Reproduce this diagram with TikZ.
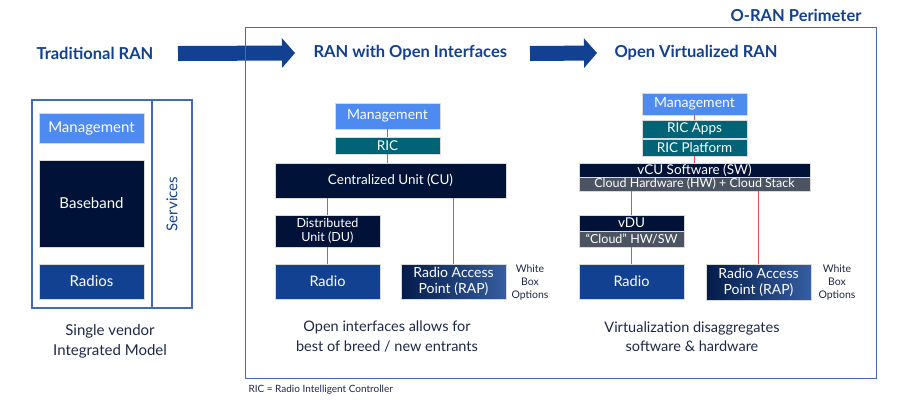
\documentclass[tikz,border=0pt]{standalone}
\usepackage{fontspec}
\setmainfont{Lato}
\usepackage{tikz}
\usetikzlibrary{calc,arrows.meta}
\definecolor[named]{ranBlue}{RGB}{18,65,145}
\definecolor[named]{mgmtBlue}{RGB}{77,139,240}
\definecolor[named]{ranNavy}{RGB}{0,18,56}
\definecolor[named]{ricTeal}{RGB}{0,100,118}
\definecolor[named]{cloudGray}{RGB}{76,84,98}
\definecolor[named]{linkRed}{RGB}{224,80,80}
\definecolor[named]{frameBlue}{RGB}{70,105,180}
\definecolor[named]{textNavy}{RGB}{30,40,70}

\begin{document}
\begin{tikzpicture}
[%
    x=1pt, y=-1pt,
    box/.style={
      rectangle,
      draw=gray!30,
      line width=0.6pt,
      inner sep=0pt,
      text=white,
      align=center,
      minimum width=105pt,
      font=\fontsize{13.5}{14}\selectfont
    },
    widebox/.style={
      box,
      minimum width=231pt
    },
    title/.style={
      anchor=west,
      text=ranBlue,
      font=\fontsize{16.5}{18}\selectfont\bfseries
    },
    caption/.style={
      text=textNavy,
      align=center,
      font=\fontsize{14.5}{19.5}\selectfont
    },
    wbox/.style={
      text=textNavy,
      align=center,
      font=\fontsize{10.5}{13}\selectfont
    },
    link/.style={
      draw=linkRed,
      line width=1.1pt
    },
    frame/.style={
      draw=frameBlue,
      line width=1.3pt
    },
    bigarrow/.style={
      draw=ranBlue,
      line width=15pt,
      -{Triangle[width=29pt,length=13pt]}
    }
  ]
  \useasboundingbox (0,0) rectangle (900,402);

  %Titles
  \node[title] (trad) at (33,53) {Traditional RAN};
  \node[title] (openif) at (310,53) {RAN with Open Interfaces};
  \node[title] (openvirt) at (611,53) {Open Virtualized RAN};
  \draw[bigarrow] (178,53.5) -- (openif.west -| 295,0);
  \draw[bigarrow] (530,53.5) -- (openvirt.west -| 597,0);

  %O-RAN perimeter
  \draw[frame, line width=1pt] (245,27) rectangle (876,378);
  \node[title, anchor=east] (perim) at (865,15) {O-RAN Perimeter};

  %Traditional RAN
  \draw[frame] (32,100) rectangle (192,308);
  \draw[frame] (152,100) -- (152,308);
  \draw (91.5,128) node[box, fill=mgmtBlue, minimum height=30pt, font=\fontsize{15}{16}\selectfont] (mgmt) {Management};
  \draw (91.5,203.5) node[box, fill=ranNavy, minimum height=87pt, font=\fontsize{15}{16}\selectfont] (bb) {Baseband};
  \draw (91.5,281.5) node[box, fill=ranBlue, minimum height=35pt, font=\fontsize{15}{16}\selectfont] (radios) {Radios};
  \node[rotate=90, text=ranBlue, font=\fontsize{15}{16}\selectfont] (serv) at (172,204) {Services};
  \node[caption, font=\fontsize{15}{20}\selectfont] (single) at (110,341) {Single vendor\\Integrated Model};

  %Open interfaces
  \draw (387.5,116) node[box, fill=mgmtBlue, minimum height=26pt, font=\fontsize{14}{15}\selectfont] (mgmtA) {Management};
  \draw (387.5,145.5) node[box, fill=ricTeal, minimum height=17pt] (ricA) {RIC};
  \draw (390.5,180.5) node[widebox, fill=ranNavy, minimum height=35pt] (cuA) {Centralized Unit (CU)};
  \draw (327.5,231) node[box, fill=ranNavy, minimum height=32pt, font=\fontsize{12.5}{14}\selectfont] (duA) {Distributed\\Unit (DU)};
  \draw (327.5,281.5) node[box, fill=ranBlue, minimum height=35pt, font=\fontsize{14.5}{15}\selectfont] (radioA) {Radio};
  \draw (453.5,281.5) node[box, left color=ranNavy!80!ranBlue, right color=ranBlue!85!white, minimum height=35pt, font=\fontsize{14}{16}\selectfont] (rapA) {Radio Access\\Point (RAP)};
  \node[wbox] (wbA) at (530,283) {White\\Box\\Options};
  \draw[link] (mgmtA.south) -- (ricA.north);
  \draw[link] (ricA.south) -- (ricA.south |- cuA.north);
  \draw[link] (duA.north |- cuA.south) -- (duA.north);
  \draw[link] (duA.south) -- (radioA.north);
  \draw[link] (rapA.north |- cuA.south) -- (rapA.north);
  \node[caption] (capA) at (387,336.5) {Open interfaces allows for\\best of breed / new entrants};

  %Open virtualized
  \draw (694.5,104) node[box, fill=mgmtBlue, minimum height=22pt, font=\fontsize{14}{15}\selectfont] (mgmtB) {Management};
  \draw (694.5,129) node[box, fill=ricTeal, minimum height=18pt] (appsB) {RIC Apps};
  \draw (694.5,147.5) node[box, fill=ricTeal, minimum height=17pt] (platB) {RIC Platform};
  \draw (694.5,170) node[widebox, fill=ranNavy, minimum height=14pt] (vcuB) {vCU Software (SW)};
  \draw (694.5,184) node[widebox, fill=cloudGray, minimum height=14pt, font=\fontsize{12.5}{13}\selectfont] (hwB) {Cloud Hardware (HW) + Cloud Stack};
  \draw (631.5,223) node[box, fill=ranNavy, minimum height=16pt] (vduB) {vDU};
  \draw (631.5,239) node[box, fill=cloudGray, minimum height=16pt, font=\fontsize{12.5}{13}\selectfont] (chwB) {“Cloud” HW/SW};
  \draw (631.5,281.5) node[box, fill=ranBlue, minimum height=35pt, font=\fontsize{14.5}{15}\selectfont] (radioB) {Radio};
  \draw (758.5,282) node[box, left color=ranNavy!80!ranBlue, right color=ranBlue!85!white, minimum height=36pt, font=\fontsize{14}{16}\selectfont] (rapB) {Radio Access\\Point (RAP)};
  \node[wbox] (wbB) at (837,283) {White\\Box\\Options};
  \draw[link] (mgmtB.south) -- (appsB.north);
  \draw[link] (platB.south) -- (vcuB.north);
  \draw[link] (vduB.north |- hwB.south) -- (vduB.north);
  \draw[link] (chwB.south) -- (radioB.north);
  \draw[link] (rapB.north |- hwB.south) -- (rapB.north);
  \node[caption] (capB) at (692,336.5) {Virtualization disaggregates\\software \& hardware};

  %Footnote
  \node[anchor=west, text=textNavy, font=\fontsize{10}{11}\selectfont] (ricnote) at (245,390) {RIC = Radio Intelligent Controller};

\end{tikzpicture}
\end{document}
